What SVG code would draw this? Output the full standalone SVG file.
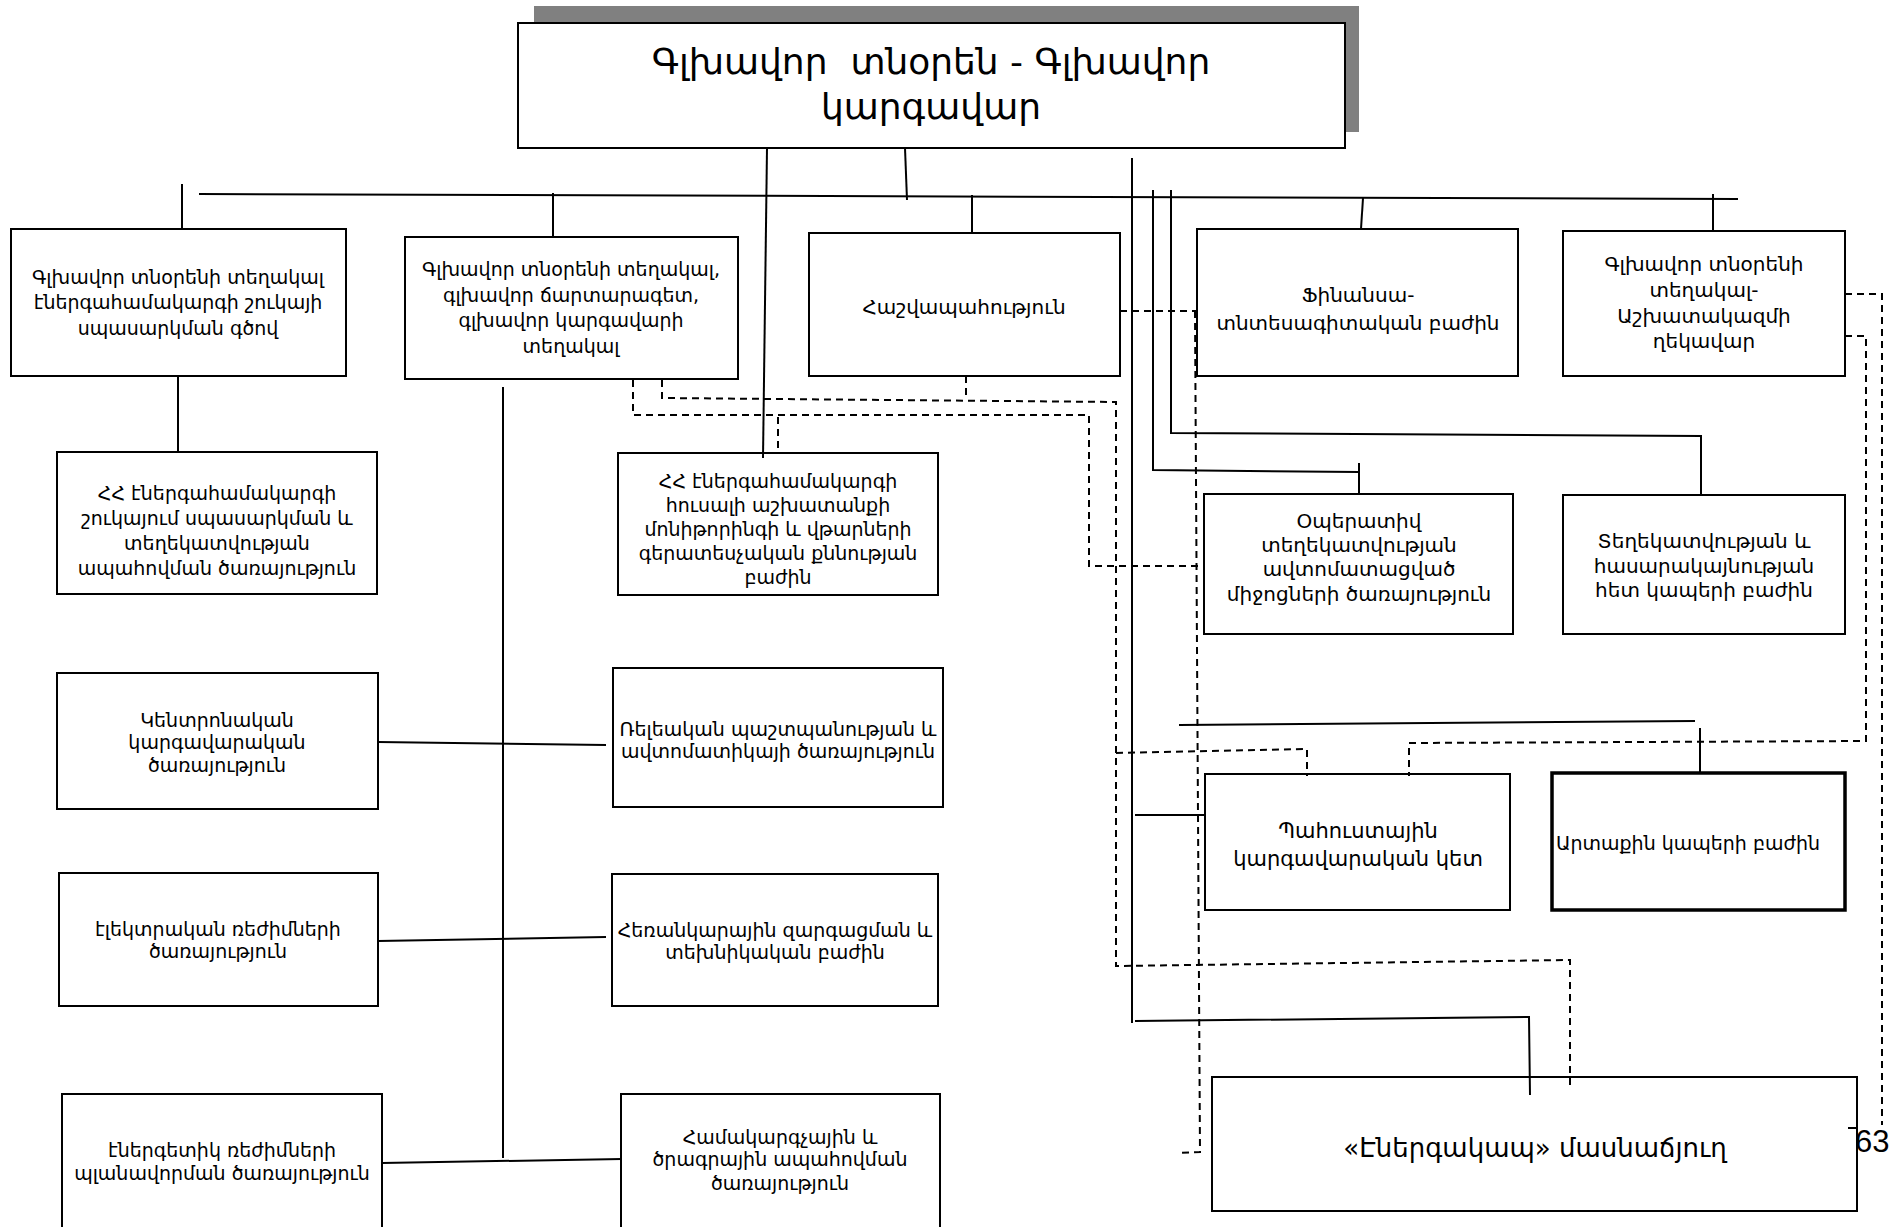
<svg xmlns="http://www.w3.org/2000/svg" width="1901" height="1227" viewBox="0 0 1901 1227">
<style>
.box{fill:#fff;stroke:#000;stroke-width:2}
.thick{stroke-width:3.5}
.ln{fill:none;stroke:#000;stroke-width:2}
.ds{fill:none;stroke:#000;stroke-width:2;stroke-dasharray:7,5}
text{font-family:"DejaVu Sans","Noto Sans",sans-serif;fill:#000;text-anchor:middle}
.f20{font-size:19px}
.f21{font-size:20px}
.f23{font-size:21px}
.f27{font-size:26px}
.ft{font-size:36px}
</style>
<rect width="1901" height="1227" fill="#fff"/>

<g id="title">
  <rect x="534" y="6" width="825" height="126" fill="#808080"/>
  <rect class="box" x="518" y="23" width="827" height="125"/>
  <text class="ft" x="931" y="74" xml:space="preserve">Գլխավոր  տնօրեն - Գլխավոր</text>
  <text class="ft" x="931" y="119">կարգավար</text>
</g>

<g id="nodeA">
  <rect class="box" x="11" y="229" width="335" height="147"/>
  <text class="f20" x="178" y="284">Գլխավոր տնօրենի տեղակալ</text>
  <text class="f20" x="178" y="309">էներգահամակարգի շուկայի</text>
  <text class="f20" x="178" y="335">սպասարկման գծով</text>
</g>
<g id="nodeB">
  <rect class="box" x="405" y="237" width="333" height="142"/>
  <text class="f20" x="571" y="276">Գլխավոր տնօրենի տեղակալ,</text>
  <text class="f20" x="571" y="302">գլխավոր ճարտարագետ,</text>
  <text class="f20" x="571" y="327">գլխավոր կարգավարի</text>
  <text class="f20" x="571" y="353">տեղակալ</text>
</g>
<g id="nodeC">
  <rect class="box" x="809" y="233" width="311" height="143"/>
  <text class="f21" x="964" y="314">Հաշվապահություն</text>
</g>
<g id="nodeD">
  <rect class="box" x="1197" y="229" width="321" height="147"/>
  <text class="f21" x="1358" y="302">Ֆինանսա-</text>
  <text class="f21" x="1358" y="330">տնտեսագիտական բաժին</text>
</g>
<g id="nodeE">
  <rect class="box" x="1563" y="231" width="282" height="145"/>
  <text class="f21" x="1704" y="271">Գլխավոր տնօրենի</text>
  <text class="f21" x="1704" y="297">տեղակալ-</text>
  <text class="f21" x="1704" y="323">Աշխատակազմի</text>
  <text class="f21" x="1704" y="348">ղեկավար</text>
</g>
<g id="nodeF">
  <rect class="box" x="57" y="452" width="320" height="142"/>
  <text class="f20" x="217" y="500">ՀՀ էներգահամակարգի</text>
  <text class="f20" x="217" y="525">շուկայում սպասարկման և</text>
  <text class="f20" x="217" y="550">տեղեկատվության</text>
  <text class="f20" x="217" y="575">ապահովման ծառայություն</text>
</g>
<g id="nodeG">
  <rect class="box" x="618" y="453" width="320" height="142"/>
  <text class="f20" x="778" y="488">ՀՀ էներգահամակարգի</text>
  <text class="f20" x="778" y="512">հուսալի աշխատանքի</text>
  <text class="f20" x="778" y="536">մոնիթորինգի և վթարների</text>
  <text class="f20" x="778" y="560">գերատեսչական քննության</text>
  <text class="f20" x="778" y="584">բաժին</text>
</g>
<g id="nodeH">
  <rect class="box" x="1204" y="494" width="309" height="140"/>
  <text class="f21" x="1359" y="528">Օպերատիվ</text>
  <text class="f21" x="1359" y="552">տեղեկատվության</text>
  <text class="f21" x="1359" y="576">ավտոմատացված</text>
  <text class="f21" x="1359" y="601">միջոցների ծառայություն</text>
</g>
<g id="nodeI">
  <rect class="box" x="1563" y="495" width="282" height="139"/>
  <text class="f21" x="1704" y="548">Տեղեկատվության և</text>
  <text class="f21" x="1704" y="573">հասարակայնության</text>
  <text class="f21" x="1704" y="597">հետ կապերի բաժին</text>
</g>
<g id="nodeJ">
  <rect class="box" x="57" y="673" width="321" height="136"/>
  <text class="f20" x="217" y="727">Կենտրոնական</text>
  <text class="f20" x="217" y="749">կարգավարական</text>
  <text class="f20" x="217" y="772">ծառայություն</text>
</g>
<g id="nodeK">
  <rect class="box" x="613" y="668" width="330" height="139"/>
  <text class="f20" x="778" y="736">Ռելեական պաշտպանության և</text>
  <text class="f20" x="778" y="758">ավտոմատիկայի ծառայություն</text>
</g>
<g id="nodeL">
  <rect class="box" x="59" y="873" width="319" height="133"/>
  <text class="f20" x="218" y="936">էլեկտրական ռեժիմների</text>
  <text class="f20" x="218" y="958">ծառայություն</text>
</g>
<g id="nodeM">
  <rect class="box" x="612" y="874" width="326" height="132"/>
  <text class="f20" x="775" y="937">Հեռանկարային զարգացման և</text>
  <text class="f20" x="775" y="959">տեխնիկական բաժին</text>
</g>
<g id="nodeN">
  <rect class="box" x="62" y="1094" width="320" height="150"/>
  <text class="f20" x="222" y="1157">էներգետիկ ռեժիմների</text>
  <text class="f20" x="222" y="1180">պլանավորման ծառայություն</text>
</g>
<g id="nodeO">
  <rect class="box" x="621" y="1094" width="319" height="150"/>
  <text class="f20" x="780" y="1144">Համակարգչային և</text>
  <text class="f20" x="780" y="1166">ծրագրային ապահովման</text>
  <text class="f20" x="780" y="1190">ծառայություն</text>
</g>
<g id="nodeP">
  <rect class="box" x="1205" y="774" width="305" height="136"/>
  <text class="f23" x="1358" y="838">Պահուստային</text>
  <text class="f23" x="1358" y="866">կարգավարական կետ</text>
</g>
<g id="nodeQ">
  <rect class="box thick" x="1552" y="773" width="293" height="137"/>
  <text class="f20" x="1688" y="850">Արտաքին կապերի բաժին</text>
</g>
<g id="nodeR">
  <rect class="box" x="1212" y="1077" width="645" height="134"/>
  <text class="f27" x="1535" y="1157">«Էներգակապ» մասնաճյուղ</text>
</g>

<g id="connectors">
  <!-- solid -->
  <path class="ln" d="M199,194 L1738,199"/>
  <path class="ln" d="M182,184 V229"/>
  <path class="ln" d="M178,376 V453"/>
  <path class="ln" d="M553,193 V237"/>
  <path class="ln" d="M503,387 V1158"/>
  <path class="ln" d="M972,195 V233"/>
  <path class="ln" d="M1363,198 L1361,229"/>
  <path class="ln" d="M1713,194 V231"/>
  <path class="ln" d="M905,148 L907,200"/>
  <path class="ln" d="M767,148 L763,458"/>
  <path class="ln" d="M1132,158 V1023"/>
  <path class="ln" d="M1153,190 V470 L1359,472"/>
  <path class="ln" d="M1359,463 V495"/>
  <path class="ln" d="M1171,190 V433 L1701,436 V495"/>
  <path class="ln" d="M1179,725 L1695,721"/>
  <path class="ln" d="M1700,728 V773"/>
  <path class="ln" d="M1135,815 H1205"/>
  <path class="ln" d="M1135,1021 L1529,1017 L1530,1095"/>
  <path class="ln" d="M378,742 L606,745"/>
  <path class="ln" d="M378,941 L606,937"/>
  <path class="ln" d="M382,1163 L622,1159"/>
  <path class="ln" d="M1848,1128 H1857"/>
  <!-- dashed -->
  <path class="ds" d="M1120,311 H1197"/>
  <path class="ds" d="M1195,311 L1200,1152 L1178,1153"/>
  <path class="ds" d="M633,380 V415 H1089 V566 H1204"/>
  <path class="ds" d="M778,417 V453"/>
  <path class="ds" d="M662,380 V398 L1116,402 V966 L1570,960 V1089"/>
  <path class="ds" d="M966,376 V400"/>
  <path class="ds" d="M1116,753 L1307,749 V776"/>
  <path class="ds" d="M1845,336 H1866 V741 L1409,743 V776"/>
  <path class="ds" d="M1845,294 H1882 V1125"/>
</g>
<text x="1855" y="1152" style="font-family:'Liberation Sans',Arial,sans-serif;font-size:31px;text-anchor:start">63</text>
</svg>
